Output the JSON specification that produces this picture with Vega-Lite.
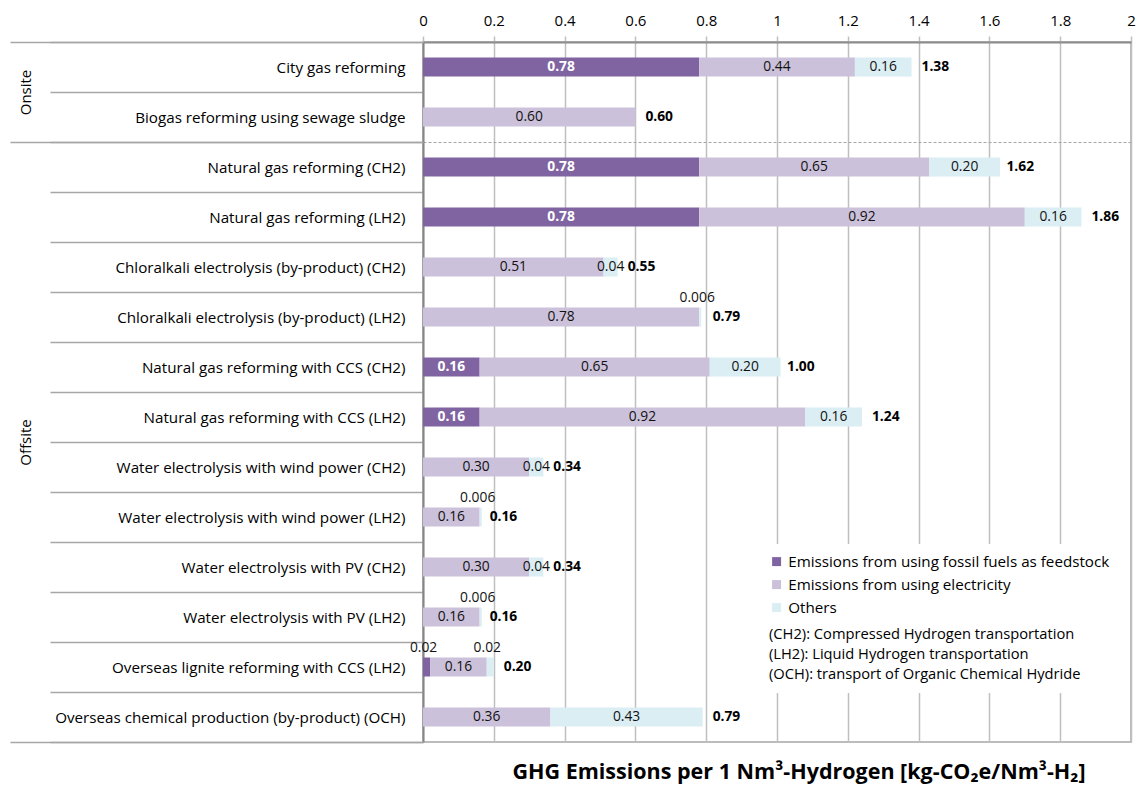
{
  "$schema": "https://vega.github.io/schema/vega-lite/v6.json",
  "width": 708,
  "height": 700,
  "autosize": {"type": "none"},
  "padding": {"left": 423, "top": 42, "right": 6, "bottom": 46},
  "config": {
    "font": "Open Sans",
    "view": {"stroke": "#a6a6a6", "strokeWidth": 1.5},
    "text": {"font": "Open Sans", "fontSize": 13.8, "baseline": "middle"}
  },
  "title": {
    "text": "GHG Emissions per 1 Nm³-Hydrogen [kg-CO₂e/Nm³-H₂]",
    "orient": "bottom",
    "anchor": "middle",
    "font": "Open Sans",
    "fontSize": 21.5,
    "fontWeight": "bold",
    "color": "#000000",
    "offset": 19,
    "dx": 22
  },
  "datasets": {
    "seg": [
      {"cat": "City gas reforming", "comp": "Emissions from using fossil fuels as feedstock", "k": 1, "value": 0.78},
      {"cat": "City gas reforming", "comp": "Emissions from using electricity", "k": 2, "value": 0.44},
      {"cat": "City gas reforming", "comp": "Others", "k": 3, "value": 0.16},
      {"cat": "Biogas reforming using sewage sludge", "comp": "Emissions from using electricity", "k": 2, "value": 0.60},
      {"cat": "Natural gas reforming (CH2)", "comp": "Emissions from using fossil fuels as feedstock", "k": 1, "value": 0.78},
      {"cat": "Natural gas reforming (CH2)", "comp": "Emissions from using electricity", "k": 2, "value": 0.65},
      {"cat": "Natural gas reforming (CH2)", "comp": "Others", "k": 3, "value": 0.20},
      {"cat": "Natural gas reforming (LH2)", "comp": "Emissions from using fossil fuels as feedstock", "k": 1, "value": 0.78},
      {"cat": "Natural gas reforming (LH2)", "comp": "Emissions from using electricity", "k": 2, "value": 0.92},
      {"cat": "Natural gas reforming (LH2)", "comp": "Others", "k": 3, "value": 0.16},
      {"cat": "Chloralkali electrolysis (by-product) (CH2)", "comp": "Emissions from using electricity", "k": 2, "value": 0.51},
      {"cat": "Chloralkali electrolysis (by-product) (CH2)", "comp": "Others", "k": 3, "value": 0.04},
      {"cat": "Chloralkali electrolysis (by-product) (LH2)", "comp": "Emissions from using electricity", "k": 2, "value": 0.78},
      {"cat": "Chloralkali electrolysis (by-product) (LH2)", "comp": "Others", "k": 3, "value": 0.006},
      {"cat": "Natural gas reforming with CCS (CH2)", "comp": "Emissions from using fossil fuels as feedstock", "k": 1, "value": 0.16},
      {"cat": "Natural gas reforming with CCS (CH2)", "comp": "Emissions from using electricity", "k": 2, "value": 0.65},
      {"cat": "Natural gas reforming with CCS (CH2)", "comp": "Others", "k": 3, "value": 0.20},
      {"cat": "Natural gas reforming with CCS (LH2)", "comp": "Emissions from using fossil fuels as feedstock", "k": 1, "value": 0.16},
      {"cat": "Natural gas reforming with CCS (LH2)", "comp": "Emissions from using electricity", "k": 2, "value": 0.92},
      {"cat": "Natural gas reforming with CCS (LH2)", "comp": "Others", "k": 3, "value": 0.16},
      {"cat": "Water electrolysis with wind power (CH2)", "comp": "Emissions from using electricity", "k": 2, "value": 0.30},
      {"cat": "Water electrolysis with wind power (CH2)", "comp": "Others", "k": 3, "value": 0.04},
      {"cat": "Water electrolysis with wind power (LH2)", "comp": "Emissions from using electricity", "k": 2, "value": 0.16},
      {"cat": "Water electrolysis with wind power (LH2)", "comp": "Others", "k": 3, "value": 0.006},
      {"cat": "Water electrolysis with PV (CH2)", "comp": "Emissions from using electricity", "k": 2, "value": 0.30},
      {"cat": "Water electrolysis with PV (CH2)", "comp": "Others", "k": 3, "value": 0.04},
      {"cat": "Water electrolysis with PV (LH2)", "comp": "Emissions from using electricity", "k": 2, "value": 0.16},
      {"cat": "Water electrolysis with PV (LH2)", "comp": "Others", "k": 3, "value": 0.006},
      {"cat": "Overseas lignite reforming with CCS (LH2)", "comp": "Emissions from using fossil fuels as feedstock", "k": 1, "value": 0.02},
      {"cat": "Overseas lignite reforming with CCS (LH2)", "comp": "Emissions from using electricity", "k": 2, "value": 0.16},
      {"cat": "Overseas lignite reforming with CCS (LH2)", "comp": "Others", "k": 3, "value": 0.02},
      {"cat": "Overseas chemical production (by-product) (OCH)", "comp": "Emissions from using electricity", "k": 2, "value": 0.36},
      {"cat": "Overseas chemical production (by-product) (OCH)", "comp": "Others", "k": 3, "value": 0.43}
    ],
    "tot": [
      {"cat": "City gas reforming", "total": 1.38},
      {"cat": "Biogas reforming using sewage sludge", "total": 0.60},
      {"cat": "Natural gas reforming (CH2)", "total": 1.62},
      {"cat": "Natural gas reforming (LH2)", "total": 1.86},
      {"cat": "Chloralkali electrolysis (by-product) (CH2)", "total": 0.55},
      {"cat": "Chloralkali electrolysis (by-product) (LH2)", "total": 0.79},
      {"cat": "Natural gas reforming with CCS (CH2)", "total": 1.00},
      {"cat": "Natural gas reforming with CCS (LH2)", "total": 1.24},
      {"cat": "Water electrolysis with wind power (CH2)", "total": 0.34},
      {"cat": "Water electrolysis with wind power (LH2)", "total": 0.16},
      {"cat": "Water electrolysis with PV (CH2)", "total": 0.34},
      {"cat": "Water electrolysis with PV (LH2)", "total": 0.16},
      {"cat": "Overseas lignite reforming with CCS (LH2)", "total": 0.20},
      {"cat": "Overseas chemical production (by-product) (OCH)", "total": 0.79}
    ]
  },
  "resolve": {"axis": {"y": "independent", "x": "independent"}},
  "layer": [
    {
      "data": {"name": "seg"},
      "transform": [
        {"stack": "value", "groupby": ["cat"], "sort": [{"field": "k", "order": "ascending"}], "as": ["v0", "v1"]}
      ],
      "mark": {"type": "bar", "size": 19},
      "encoding": {
        "y": {
          "field": "cat", "type": "nominal",
          "scale": {
            "domain": [
              "City gas reforming",
              "Biogas reforming using sewage sludge",
              "Natural gas reforming (CH2)",
              "Natural gas reforming (LH2)",
              "Chloralkali electrolysis (by-product) (CH2)",
              "Chloralkali electrolysis (by-product) (LH2)",
              "Natural gas reforming with CCS (CH2)",
              "Natural gas reforming with CCS (LH2)",
              "Water electrolysis with wind power (CH2)",
              "Water electrolysis with wind power (LH2)",
              "Water electrolysis with PV (CH2)",
              "Water electrolysis with PV (LH2)",
              "Overseas lignite reforming with CCS (LH2)",
              "Overseas chemical production (by-product) (OCH)"
            ],
            "paddingInner": 0, "paddingOuter": 0
          },
          "axis": {
            "title": null, "orient": "left", "tickBand": "extent",
            "tickSize": 373, "tickColor": "#a6a6a6", "tickWidth": 1.5,
            "labelPadding": -355, "labelFont": "Open Sans", "labelFontSize": 15.2,
            "labelColor": "#000000", "labelLimit": 400,
            "domainColor": "#868686", "domainWidth": 2, "grid": false
          }
        },
        "x": {
          "field": "v0", "type": "quantitative",
          "scale": {"domain": [0, 2], "nice": false, "zero": true},
          "axis": {
            "title": null, "orient": "top",
            "values": [0, 0.2, 0.4, 0.6, 0.8, 1, 1.2, 1.4, 1.6, 1.8, 2],
            "format": "~g", "labelFlush": false, "labelOverlap": false,
            "grid": true, "gridColor": "#bfbfbf", "gridWidth": 1.5,
            "tickColor": "#bfbfbf", "tickWidth": 1.5, "tickSize": 6,
            "domainColor": "#8c8c8c", "domainWidth": 2,
            "labelFont": "Open Sans", "labelFontSize": 15, "labelColor": "#000000", "labelPadding": 8
          }
        },
        "x2": {"field": "v1"},
        "color": {
          "field": "comp", "type": "nominal",
          "scale": {
            "domain": ["Emissions from using fossil fuels as feedstock", "Emissions from using electricity", "Others"],
            "range": ["#8064A2", "#CCC1DA", "#DAEEF3"]
          },
          "legend": {
            "orient": "none", "legendX": 336, "legendY": 502,
            "title": [
              "(CH2): Compressed Hydrogen transportation",
              "(LH2): Liquid Hydrogen transportation",
              "(OCH): transport of Organic Chemical Hydride"
            ],
            "titleOrient": "bottom", "titleAnchor": "start", "titleAlign": "left",
            "titleFont": "Open Sans", "titleFontWeight": "normal", "titleFontSize": 14.7,
            "titleColor": "#000000", "titleLineHeight": 20.2, "titleLimit": 500, "titlePadding": 11,
            "labelFont": "Open Sans", "labelFontSize": 15.2, "labelColor": "#000000", "labelLimit": 500, "labelOffset": 4,
            "symbolType": "square", "symbolSize": 81, "symbolStrokeWidth": 0,
            "rowPadding": 7, "padding": 10, "fillColor": "white"
          }
        }
      }
    },
    {
      "data": {"name": "seg"},
      "transform": [
        {"stack": "value", "groupby": ["cat"], "sort": [{"field": "k", "order": "ascending"}], "as": ["v0", "v1"]},
        {"calculate": "(datum.v0 + datum.v1) / 2", "as": "mid"},
        {"filter": "datum.k === 1 && datum.value >= 0.03"}
      ],
      "mark": {"type": "text", "align": "center", "fontWeight": "bold", "color": "#ffffff"},
      "encoding": {
        "y": {"field": "cat", "type": "nominal", "axis": null},
        "x": {"field": "mid", "type": "quantitative", "axis": null},
        "text": {"field": "value", "type": "quantitative", "format": ".2f"}
      }
    },
    {
      "data": {"name": "seg"},
      "transform": [
        {"stack": "value", "groupby": ["cat"], "sort": [{"field": "k", "order": "ascending"}], "as": ["v0", "v1"]},
        {"calculate": "(datum.v0 + datum.v1) / 2", "as": "mid"},
        {"filter": "datum.k > 1 && datum.value >= 0.03"}
      ],
      "mark": {"type": "text", "align": "center", "color": "#111111"},
      "encoding": {
        "y": {"field": "cat", "type": "nominal", "axis": null},
        "x": {"field": "mid", "type": "quantitative", "axis": null},
        "text": {"field": "value", "type": "quantitative", "format": ".2f"}
      }
    },
    {
      "data": {"name": "seg"},
      "transform": [
        {"stack": "value", "groupby": ["cat"], "sort": [{"field": "k", "order": "ascending"}], "as": ["v0", "v1"]},
        {"calculate": "(datum.v0 + datum.v1) / 2", "as": "mid"},
        {"filter": "datum.value < 0.03"}
      ],
      "mark": {"type": "text", "align": "center", "color": "#111111", "dy": -19, "dx": -3},
      "encoding": {
        "y": {"field": "cat", "type": "nominal", "axis": null},
        "x": {"field": "mid", "type": "quantitative", "axis": null},
        "text": {"field": "value", "type": "quantitative", "format": ".3~f"}
      }
    },
    {
      "data": {"name": "tot"},
      "mark": {"type": "text", "align": "left", "dx": 10, "fontWeight": "bold", "color": "#000000"},
      "encoding": {
        "y": {
          "field": "cat", "type": "nominal",
          "axis": {
            "title": null, "orient": "left", "tickBand": "extent",
            "tickSize": 413, "tickColor": "#a6a6a6", "tickWidth": 1.5,
            "tickOpacity": {
              "condition": {"test": "datum.extra || datum.value === 'Biogas reforming using sewage sludge' || datum.value === 'Overseas chemical production (by-product) (OCH)'", "value": 1},
              "value": 0
            },
            "domain": false,
            "grid": true, "gridColor": "#a6a6a6", "gridWidth": 1, "gridDash": [3, 2],
            "gridOpacity": {
              "condition": {"test": "datum.value === 'Biogas reforming using sewage sludge'", "value": 1},
              "value": 0
            },
            "labelExpr": "datum.value === 'City gas reforming' ? 'Onsite' : datum.value === 'Natural gas reforming with CCS (LH2)' ? 'Offsite' : ''",
            "labelAngle": 270, "labelAlign": "center", "labelBaseline": "middle",
            "labelOffset": 25, "labelPadding": -15,
            "labelFont": "Open Sans", "labelFontSize": 15, "labelColor": "#000000", "labelLimit": 200
          }
        },
        "x": {"field": "total", "type": "quantitative", "axis": null},
        "text": {"field": "total", "type": "quantitative", "format": ".2f"}
      }
    }
  ]
}
